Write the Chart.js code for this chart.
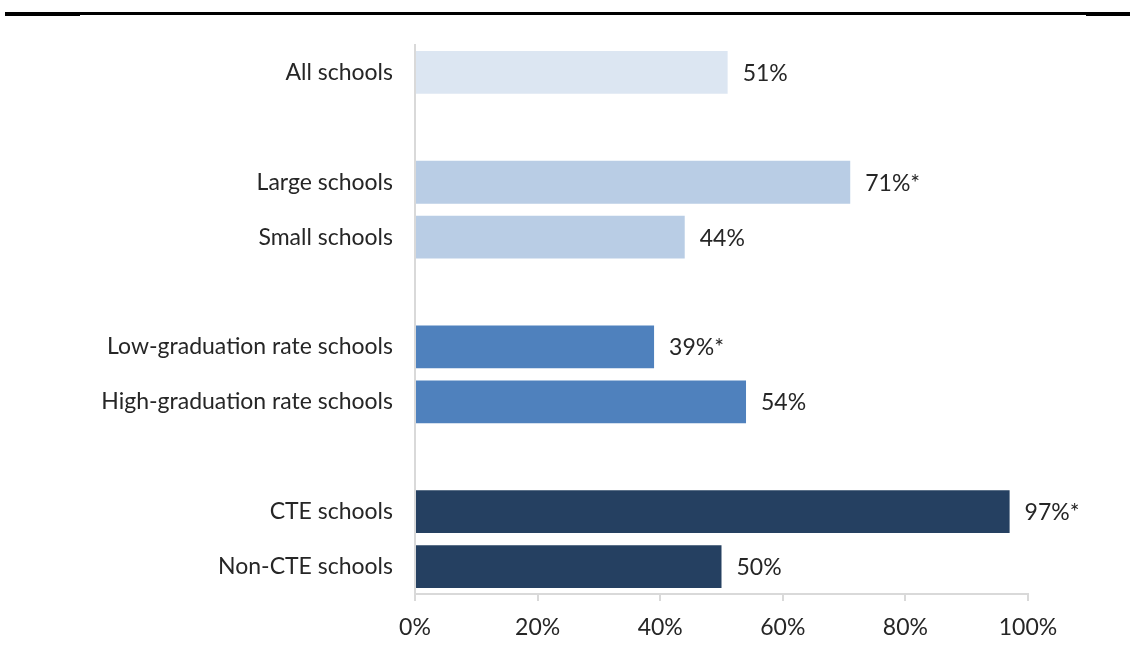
<!DOCTYPE html>
<html>
<head>
<meta charset="utf-8">
<script src="https://cdn.jsdelivr.net/npm/chart.js@4.4.0/dist/chart.umd.min.js"></script>
<style>
  html, body { margin: 0; padding: 0; background: #fff; }
  #wrap { position: relative; width: 1130px; height: 665px; }
  .rule { position: absolute; background: #000; }
</style>
</head>
<body>
<div id="wrap">
  <div class="rule" style="left:5px;top:12px;width:75px;height:4px"></div>
  <div class="rule" style="left:79px;top:12px;width:1008px;height:3px"></div>
  <div class="rule" style="left:1086px;top:12px;width:44px;height:4px"></div>
  <canvas id="chart" width="1130" height="665"></canvas>
</div>
<script>
// категории (пустые строки = промежутки между группами)
const categories = ['All schools', '', 'Large schools', 'Small schools', '',
    'Low-graduation rate schools', 'High-graduation rate schools', '',
    'CTE schools', 'Non-CTE schools'];
const values = [51, null, 71, 44, null, 39, 54, null, 97, 50];
const valueLabels = ['51%', '', '71%*', '44%', '', '39%*', '54%', '', '97%*', '50%'];
const xTicks = [0, 20, 40, 60, 80, 100];

const barColors = ['#dce6f2', null, '#b9cde5', '#b9cde5', null,
    '#4f81bd', '#4f81bd', null, '#254061', '#254061'];
const FONT = 'Lato, "Open Sans", sans-serif';
const axisGray = '#d9d9d9';

// подписи значений справа от столбцов
const valueLabelPlugin = {
    id: 'valueLabels',
    afterDatasetsDraw(chart) {
        const ctx = chart.ctx;
        const meta = chart.getDatasetMeta(0);
        ctx.save();
        ctx.font = '23px ' + FONT;
        ctx.fillStyle = '#262626';
        ctx.textAlign = 'left';
        ctx.textBaseline = 'middle';
        meta.data.forEach((bar, i) => {
            if (values[i] == null) return;
            ctx.fillText(valueLabels[i], bar.x + 15, bar.y + 1);
        });
        ctx.restore();
    }
};

new Chart(document.getElementById('chart'), {
    type: 'bar',
    data: {
        labels: categories,
        datasets: [{
            data: values,
            backgroundColor: barColors,
            borderWidth: 0,
            barPercentage: 0.78,
            categoryPercentage: 1.0
        }]
    },
    options: {
        indexAxis: 'y',
        responsive: false,
        animation: false,
        devicePixelRatio: 1,
        layout: {padding: {top: 45, right: 102, bottom: 23, left: 0}},
        plugins: {
            legend: {display: false},
            tooltip: {enabled: false}
        },
        scales: {
            x: {
                min: 0,
                max: 100,
                afterBuildTicks(scale) {
                    scale.ticks = xTicks.map(v => ({value: v}));
                },
                afterFit(scale) { scale.height = 48; },
                ticks: {
                    callback: v => v + '%',
                    color: '#262626',
                    padding: 13,
                    font: {family: FONT, size: 23}
                },
                grid: {
                    display: true,
                    drawOnChartArea: false,
                    drawTicks: true,
                    tickLength: 7,
                    color: axisGray,
                    lineWidth: 2
                },
                border: {display: true, color: axisGray, width: 2}
            },
            y: {
                afterFit(scale) { scale.width = 415; },
                ticks: {
                    color: '#262626',
                    padding: 14,
                    font: {family: FONT, size: 23}
                },
                grid: {display: false},
                border: {display: true, color: axisGray, width: 2}
            }
        }
    },
    plugins: [valueLabelPlugin]
});
</script>
</body>
</html>
